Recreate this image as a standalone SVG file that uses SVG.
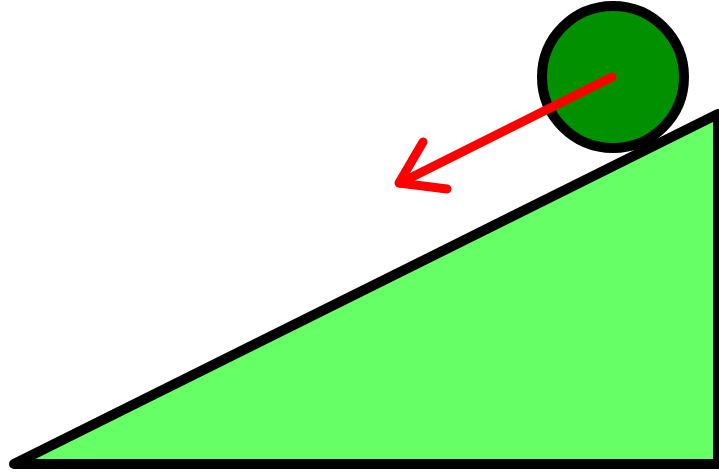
<svg xmlns="http://www.w3.org/2000/svg" width="719" height="473" viewBox="0 0 719 473">
<style>
.outline{stroke:#000;stroke-width:10;stroke-linejoin:round;stroke-linecap:round}
.force{fill:none;stroke:#f00;stroke-width:9;stroke-linecap:round;stroke-linejoin:round}
</style>
<rect width="719" height="473" fill="#fff"/>
<g id="ramp">
<polygon class="outline" points="14,464 718,114 718,464" fill="#66ff66"/>
</g>
<g id="ball">
<circle class="outline" cx="613" cy="77" r="71" fill="#009000"/>
</g>
<g id="connectors">
<line class="force" x1="612" y1="77" x2="400" y2="183"/>
<polyline class="force" points="423,142 399,183 447,189"/>
</g>
</svg>
